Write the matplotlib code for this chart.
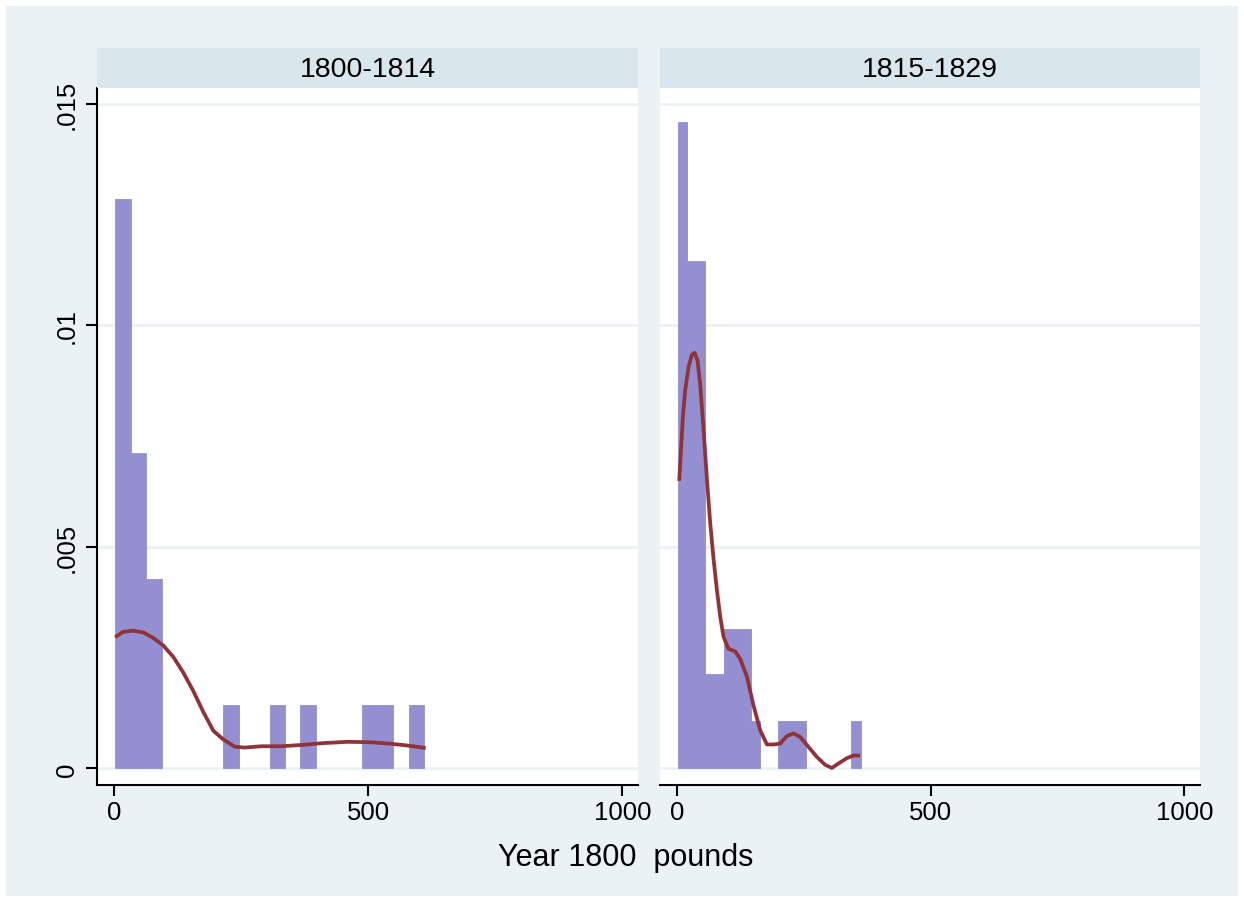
import numpy as np
import matplotlib
matplotlib.use('Agg')
import matplotlib.pyplot as plt
from matplotlib.patches import Rectangle

plt.rcParams['font.family'] = ['Liberation Sans', 'DejaVu Sans']

# panel titles
panels = ['1800-1814', '1815-1829']

# histogram: first bin edge, bin width, density of each bin
bin_start = [1.8, 1.5]
bin_width = [30.4, 18.0]
dens_1800 = [0.01285, 0.00712, 0.00428, 0, 0, 0, 0, 0.00143, 0, 0,
             0.00143, 0, 0.00143, 0, 0, 0, 0.00143, 0.00143, 0, 0.00143]
dens_1815 = [0.01459, 0.01146, 0.01146, 0.00212, 0.00212, 0.00315, 0.00315,
             0.00315, 0.00108, 0, 0, 0.00108, 0.00108, 0.00108, 0, 0, 0, 0,
             0, 0.00108]

# kernel density line
kde_x_1800 = [1.8, 17, 37, 57, 76, 96, 116, 136, 155, 175, 195, 214, 237,
              257, 290, 330, 370, 410, 460, 505, 540, 575, 613]
kde_y_1800 = [0.00296, 0.00308, 0.00311, 0.00307, 0.00295, 0.00278, 0.00252,
              0.00216, 0.00176, 0.00128, 0.00085, 0.00066, 0.00049, 0.00047,
              0.00050, 0.00050, 0.00053, 0.00057, 0.00060, 0.00059, 0.00056,
              0.00052, 0.00046]
kde_x_1815 = [3.9, 7.2, 11.2, 15.8, 22.3, 28.9, 34.2, 40, 45.3, 51.9,
              58.5, 65, 71.6, 78.2, 84.7, 91.3, 101, 114.3, 124.2, 137.4,
              150.4, 163.6, 176.8, 189.8, 203, 216.2, 229.2, 242.4, 255.6,
              275.3, 291.7, 304.9, 317.9, 334.5, 347.5, 360.7]
kde_y_1815 = [0.00649, 0.00715, 0.00795, 0.00855, 0.00906, 0.00934,
              0.00938, 0.00921, 0.00866, 0.00765, 0.00654, 0.00554, 0.00473,
              0.00403, 0.00343, 0.00297, 0.00270, 0.00264, 0.00247, 0.00207,
              0.00142, 0.00086, 0.00054, 0.00054, 0.00056, 0.00073, 0.00079,
              0.00071, 0.00053, 0.00026, 0.00008, 0.00001, 0.00011, 0.00023,
              0.00029, 0.00029]

yticks = [0, 0.005, 0.01, 0.015]
ytick_labels = ['0', '.005', '.01', '.015']
xticks = [0, 500, 1000]

dens = [dens_1800, dens_1815]
kde = [(kde_x_1800, kde_y_1800), (kde_x_1815, kde_y_1815)]

bg = '#eaf2f3'
strip_col = '#d9e6eb'
bar_col = '#938fd1'
line_col = '#8f3339'

W, H = 1244, 903


def box(x0, y0, x1, y1):
    return [x0 / W, 1 - y1 / H, (x1 - x0) / W, (y1 - y0) / H]


fig = plt.figure(figsize=(W / 100, H / 100), dpi=100, facecolor='white')
fig.patches.append(Rectangle((6 / W, 6 / H), 1 - 12 / W, 1 - 13 / H,
                             transform=fig.transFigure, facecolor=bg,
                             edgecolor='none', zorder=-10))

panel_x = [(97, 638), (660, 1200)]
for i, (x0, x1) in enumerate(panel_x):
    ax = fig.add_axes(box(x0, 89, x1, 786))
    ax.set_facecolor('white')
    for y in yticks:
        ax.axhline(y, color=bg, lw=2, zorder=0)
    d = np.array(dens[i])
    edges = bin_start[i] + bin_width[i] * np.arange(len(d))
    keep = d > 0
    ax.bar(edges[keep], d[keep], width=bin_width[i], align='edge',
           color=bar_col, edgecolor=bar_col, linewidth=0.6, zorder=2)
    ax.plot(kde[i][0], kde[i][1], color=line_col, lw=2.7, zorder=3,
            solid_capstyle='butt')
    ax.set_xlim(-34, 1031)
    ax.set_ylim(-0.000375, 0.01536)
    ax.set_xticks(xticks)
    ax.set_xticklabels([str(t) for t in xticks], fontsize=18.5)
    ax.tick_params(axis='x', length=8, width=1.5, pad=3, color='black')
    for s in ['top', 'right']:
        ax.spines[s].set_visible(False)
    ax.spines['bottom'].set_linewidth(1.5)
    if i == 0:
        ax.spines['left'].set_linewidth(1.5)
        ax.set_yticks(yticks)
        ax.set_yticklabels(ytick_labels, fontsize=18.5, rotation=90,
                           va='center')
        ax.tick_params(axis='y', length=8, width=1.5, pad=5)
    else:
        ax.spines['left'].set_visible(False)
        ax.set_yticks([])

    sax = fig.add_axes(box(x0, 49, x1, 89))
    sax.set_facecolor(strip_col)
    sax.set_xticks([])
    sax.set_yticks([])
    for s in sax.spines.values():
        s.set_visible(False)
    sax.text(0.5, 0.47, panels[i], ha='center', va='center', fontsize=20.5,
             transform=sax.transAxes)

fig.text(626 / W, 1 - 858 / H, 'Year 1800  pounds', ha='center',
         va='center', fontsize=22)

fig.savefig('out.png', dpi=100, facecolor='white')
